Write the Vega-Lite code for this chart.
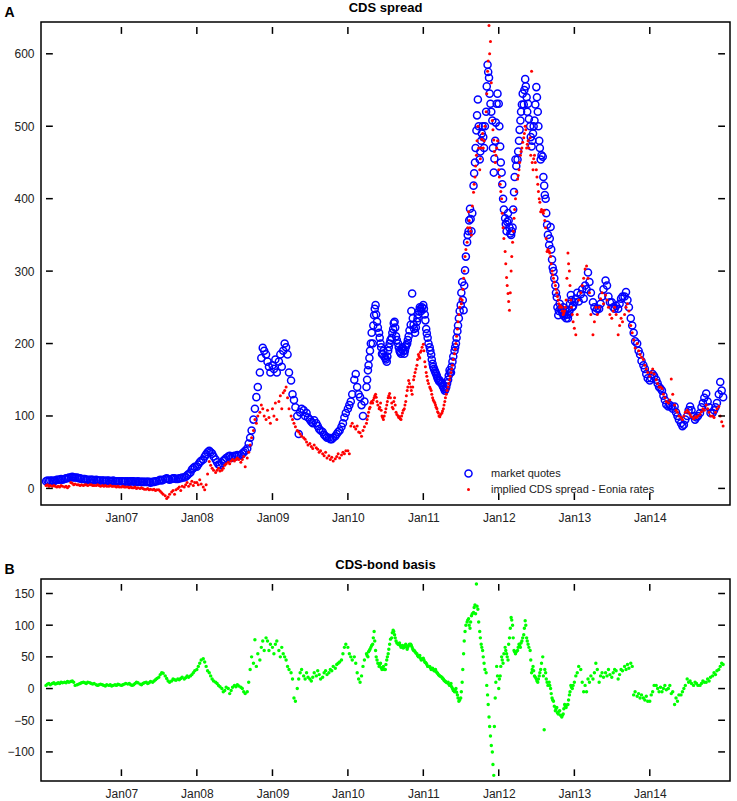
{
  "$schema": "https://vega.github.io/schema/vega-lite/v6.json",
  "background": "white",
  "padding": {"left": 3, "top": 1, "right": 4, "bottom": 0},
  "spacing": 34,
  "config": {
    "font": "Liberation Sans",
    "view": {"stroke": "#000", "strokeWidth": 1.5},
    "axis": {
      "labelFont": "Liberation Sans",
      "labelFontSize": 12,
      "labelColor": "#222",
      "domain": false,
      "grid": false,
      "ticks": false,
      "labelPadding": 7
    },
    "title": {"font": "Liberation Sans", "fontSize": 13, "fontWeight": "bold", "color": "#000", "offset": 5, "anchor": "middle", "dy": 15}
  },
  "datasets": {
    "xticks": [{"t":"2007-01-01"},{"t":"2008-01-01"},{"t":"2009-01-01"},{"t":"2010-01-01"},{"t":"2011-01-01"},{"t":"2012-01-01"},{"t":"2013-01-01"},{"t":"2014-01-01"}],
    "yticksA": [{"v":0},{"v":100},{"v":200},{"v":300},{"v":400},{"v":500},{"v":600}],
    "yticksB": [{"b":-100},{"b":-50},{"b":0},{"b":50},{"b":100},{"b":150}],
    "cds": [
{"d":"2006-01-01","m":10,"i":4,"b":5},{"d":"2006-01-08","m":11,"i":5,"b":7},{"d":"2006-01-15","m":10,"i":3,"b":8},{"d":"2006-01-22","m":11,"i":4,"b":6},
{"d":"2006-02-01","m":11,"i":3,"b":8},{"d":"2006-02-08","m":10,"i":4,"b":9},{"d":"2006-02-15","m":11,"i":3,"b":7},{"d":"2006-02-22","m":12,"i":2,"b":8},
{"d":"2006-03-01","m":12,"i":3,"b":9},{"d":"2006-03-08","m":12,"i":2,"b":8},{"d":"2006-03-15","m":13,"i":4,"b":10},{"d":"2006-03-22","m":12,"i":3,"b":9},
{"d":"2006-04-01","m":13,"i":2,"b":10},{"d":"2006-04-08","m":14,"i":3,"b":9},{"d":"2006-04-15","m":14,"i":1,"b":11},{"d":"2006-04-22","m":15,"i":3,"b":10},
{"d":"2006-05-01","m":15,"i":8,"b":11},{"d":"2006-05-08","m":16,"i":7,"b":12},{"d":"2006-05-15","m":15,"i":5,"b":10},{"d":"2006-05-22","m":15,"i":6,"b":5},
{"d":"2006-06-01","m":15,"i":5,"b":6},{"d":"2006-06-08","m":14,"i":5,"b":7},{"d":"2006-06-15","m":14,"i":4,"b":8},{"d":"2006-06-22","m":13,"i":5,"b":9},
{"d":"2006-07-01","m":13,"i":4,"b":10},{"d":"2006-07-08","m":13,"i":5,"b":9},{"d":"2006-07-15","m":12,"i":5,"b":8},{"d":"2006-07-22","m":12,"i":4,"b":10},
{"d":"2006-08-01","m":12,"i":5,"b":9},{"d":"2006-08-08","m":12,"i":5,"b":8},{"d":"2006-08-15","m":12,"i":4,"b":7},{"d":"2006-08-22","m":11,"i":4,"b":8},
{"d":"2006-09-01","m":12,"i":4,"b":6},{"d":"2006-09-08","m":11,"i":5,"b":5},{"d":"2006-09-15","m":11,"i":4,"b":6},{"d":"2006-09-22","m":11,"i":3,"b":7},
{"d":"2006-10-01","m":11,"i":4,"b":6},{"d":"2006-10-08","m":11,"i":3,"b":5},{"d":"2006-10-15","m":10,"i":4,"b":4},{"d":"2006-10-22","m":11,"i":3,"b":6},
{"d":"2006-11-01","m":11,"i":3,"b":5},{"d":"2006-11-08","m":10,"i":4,"b":6},{"d":"2006-11-15","m":10,"i":3,"b":4},{"d":"2006-11-22","m":11,"i":3,"b":5},
{"d":"2006-12-01","m":10,"i":3,"b":6},{"d":"2006-12-08","m":10,"i":2,"b":5},{"d":"2006-12-15","m":10,"i":3,"b":7},{"d":"2006-12-22","m":10,"i":2,"b":6},
{"d":"2007-01-01","m":10,"i":2,"b":5},{"d":"2007-01-08","m":10,"i":3,"b":6},{"d":"2007-01-15","m":9,"i":2,"b":7},{"d":"2007-01-22","m":10,"i":2,"b":8},
{"d":"2007-02-01","m":10,"i":2,"b":7},{"d":"2007-02-08","m":9,"i":1,"b":8},{"d":"2007-02-15","m":10,"i":2,"b":6},{"d":"2007-02-22","m":10,"i":1,"b":5},
{"d":"2007-03-01","m":10,"i":1,"b":6},{"d":"2007-03-08","m":9,"i":2,"b":8},{"d":"2007-03-15","m":9,"i":0,"b":10},{"d":"2007-03-22","m":10,"i":1,"b":9},
{"d":"2007-04-01","m":9,"i":0,"b":7},{"d":"2007-04-08","m":9,"i":1,"b":6},{"d":"2007-04-15","m":9,"i":0,"b":8},{"d":"2007-04-22","m":9,"i":-1,"b":9},
{"d":"2007-05-01","m":9,"i":-1,"b":10},{"d":"2007-05-08","m":9,"i":0,"b":8},{"d":"2007-05-15","m":9,"i":-2,"b":9},{"d":"2007-05-22","m":8,"i":-1,"b":11},
{"d":"2007-06-01","m":9,"i":-2,"b":10},{"d":"2007-06-08","m":9,"i":-1,"b":12},{"d":"2007-06-15","m":10,"i":-3,"b":14},{"d":"2007-06-22","m":10,"i":-2,"b":16},
{"d":"2007-07-01","m":11,"i":-2,"b":18},{"d":"2007-07-08","m":12,"i":-4,"b":22},{"d":"2007-07-15","m":11,"i":-6,"b":25},{"d":"2007-07-22","m":12,"i":-8,"b":24},
{"d":"2007-08-01","m":13,"i":-10,"b":20},{"d":"2007-08-08","m":14,"i":-14,"b":16},{"d":"2007-08-15","m":13,"i":-12,"b":12},{"d":"2007-08-22","m":12,"i":-8,"b":10},
{"d":"2007-09-01","m":13,"i":-5,"b":12},{"d":"2007-09-08","m":14,"i":-3,"b":15},{"d":"2007-09-15","m":14,"i":-8,"b":14},{"d":"2007-09-22","m":13,"i":-2,"b":13},
{"d":"2007-10-01","m":13,"i":0,"b":15},{"d":"2007-10-08","m":14,"i":2,"b":14},{"d":"2007-10-15","m":14,"i":-3,"b":16},{"d":"2007-10-22","m":15,"i":3,"b":18},
{"d":"2007-11-01","m":15,"i":2,"b":15},{"d":"2007-11-08","m":16,"i":5,"b":17},{"d":"2007-11-15","m":18,"i":8,"b":20},{"d":"2007-11-22","m":20,"i":3,"b":18},
{"d":"2007-12-01","m":22,"i":6,"b":20},{"d":"2007-12-08","m":26,"i":10,"b":22},{"d":"2007-12-15","m":28,"i":4,"b":25},{"d":"2007-12-22","m":30,"i":8,"b":28},
{"d":"2008-01-01","m":30,"i":8,"b":30},{"d":"2008-01-08","m":33,"i":5,"b":35},{"d":"2008-01-15","m":36,"i":12,"b":40},{"d":"2008-01-22","m":38,"i":6,"b":45},
{"d":"2008-02-01","m":40,"i":2,"b":47},{"d":"2008-02-08","m":44,"i":-2,"b":42},{"d":"2008-02-15","m":47,"i":5,"b":35},{"d":"2008-02-22","m":50,"i":20,"b":28},
{"d":"2008-03-01","m":52,"i":37,"b":25},{"d":"2008-03-08","m":50,"i":32,"b":20},{"d":"2008-03-15","m":48,"i":28,"b":15},{"d":"2008-03-22","m":44,"i":25,"b":12},
{"d":"2008-04-01","m":40,"i":22,"b":10},{"d":"2008-04-08","m":36,"i":25,"b":8},{"d":"2008-04-15","m":33,"i":28,"b":5},{"d":"2008-04-22","m":32,"i":24,"b":3},
{"d":"2008-05-01","m":35,"i":25,"b":0},{"d":"2008-05-08","m":38,"i":28,"b":-5},{"d":"2008-05-15","m":40,"i":32,"b":-3},{"d":"2008-05-22","m":42,"i":34,"b":2},
{"d":"2008-06-01","m":44,"i":36,"b":0},{"d":"2008-06-08","m":45,"i":34,"b":-8},{"d":"2008-06-15","m":42,"i":38,"b":-3},{"d":"2008-06-22","m":44,"i":40,"b":2},
{"d":"2008-07-01","m":45,"i":38,"b":5},{"d":"2008-07-08","m":44,"i":40,"b":3},{"d":"2008-07-15","m":46,"i":42,"b":6},{"d":"2008-07-22","m":45,"i":40,"b":4},
{"d":"2008-08-01","m":46,"i":36,"b":2},{"d":"2008-08-08","m":48,"i":40,"b":0},{"d":"2008-08-15","m":50,"i":44,"b":-5},{"d":"2008-08-22","m":52,"i":30,"b":-8},
{"d":"2008-09-01","m":55,"i":42,"b":-5},{"d":"2008-09-08","m":62,"i":50,"b":10},{"d":"2008-09-15","m":70,"i":60,"b":30},{"d":"2008-09-22","m":80,"i":70,"b":50},
{"d":"2008-10-01","m":95,"i":80,"b":40},{"d":"2008-10-08","m":110,"i":95,"b":77},{"d":"2008-10-15","m":126,"i":90,"b":35},{"d":"2008-10-22","m":140,"i":100,"b":55},
{"d":"2008-11-01","m":160,"i":105,"b":45},{"d":"2008-11-08","m":180,"i":115,"b":65},{"d":"2008-11-15","m":194,"i":110,"b":75},{"d":"2008-11-22","m":190,"i":100,"b":60},
{"d":"2008-12-01","m":185,"i":95,"b":80},{"d":"2008-12-08","m":175,"i":108,"b":75},{"d":"2008-12-15","m":168,"i":98,"b":60},{"d":"2008-12-22","m":160,"i":90,"b":70},
{"d":"2009-01-01","m":170,"i":110,"b":65},{"d":"2009-01-08","m":165,"i":100,"b":55},{"d":"2009-01-15","m":178,"i":118,"b":70},{"d":"2009-01-22","m":160,"i":95,"b":75},
{"d":"2009-02-01","m":175,"i":120,"b":60},{"d":"2009-02-08","m":185,"i":128,"b":50},{"d":"2009-02-15","m":168,"i":110,"b":65},{"d":"2009-02-22","m":190,"i":132,"b":55},
{"d":"2009-03-01","m":200,"i":135,"b":50},{"d":"2009-03-08","m":195,"i":140,"b":45},{"d":"2009-03-15","m":185,"i":125,"b":35},{"d":"2009-03-22","m":160,"i":110,"b":30},
{"d":"2009-04-01","m":149,"i":100,"b":25},{"d":"2009-04-08","m":130,"i":95,"b":15},{"d":"2009-04-15","m":122,"i":90,"b":-15},{"d":"2009-04-22","m":112,"i":85,"b":-20},
{"d":"2009-05-01","m":100,"i":80,"b":0},{"d":"2009-05-08","m":75,"i":78,"b":15},{"d":"2009-05-15","m":105,"i":75,"b":25},{"d":"2009-05-22","m":110,"i":72,"b":30},
{"d":"2009-06-01","m":108,"i":70,"b":20},{"d":"2009-06-08","m":100,"i":68,"b":15},{"d":"2009-06-15","m":104,"i":64,"b":25},{"d":"2009-06-22","m":98,"i":60,"b":18},
{"d":"2009-07-01","m":95,"i":62,"b":15},{"d":"2009-07-08","m":92,"i":58,"b":12},{"d":"2009-07-15","m":90,"i":55,"b":18},{"d":"2009-07-22","m":94,"i":60,"b":25},
{"d":"2009-08-01","m":90,"i":56,"b":20},{"d":"2009-08-08","m":86,"i":54,"b":28},{"d":"2009-08-15","m":82,"i":50,"b":22},{"d":"2009-08-22","m":80,"i":52,"b":15},
{"d":"2009-09-01","m":78,"i":48,"b":18},{"d":"2009-09-08","m":74,"i":45,"b":25},{"d":"2009-09-15","m":72,"i":50,"b":28},{"d":"2009-09-22","m":70,"i":42,"b":22},
{"d":"2009-10-01","m":70,"i":45,"b":25},{"d":"2009-10-08","m":68,"i":40,"b":30},{"d":"2009-10-15","m":68,"i":43,"b":28},{"d":"2009-10-22","m":70,"i":38,"b":35},
{"d":"2009-11-01","m":72,"i":41,"b":32},{"d":"2009-11-08","m":75,"i":44,"b":38},{"d":"2009-11-15","m":78,"i":48,"b":40},{"d":"2009-11-22","m":80,"i":42,"b":42},
{"d":"2009-12-01","m":85,"i":46,"b":45},{"d":"2009-12-08","m":90,"i":50,"b":55},{"d":"2009-12-15","m":98,"i":48,"b":65},{"d":"2009-12-22","m":104,"i":52,"b":70},
{"d":"2010-01-01","m":110,"i":52,"b":65},{"d":"2010-01-08","m":115,"i":48,"b":55},{"d":"2010-01-15","m":120,"i":86,"b":50},{"d":"2010-01-22","m":130,"i":90,"b":45},
{"d":"2010-02-01","m":150,"i":85,"b":50},{"d":"2010-02-08","m":158,"i":82,"b":40},{"d":"2010-02-15","m":140,"i":86,"b":25},{"d":"2010-02-22","m":130,"i":78,"b":15},
{"d":"2010-03-01","m":126,"i":77,"b":10},{"d":"2010-03-08","m":115,"i":72,"b":20},{"d":"2010-03-15","m":100,"i":80,"b":35},{"d":"2010-03-22","m":120,"i":85,"b":45},
{"d":"2010-04-01","m":140,"i":90,"b":55},{"d":"2010-04-08","m":163,"i":100,"b":50},{"d":"2010-04-15","m":180,"i":110,"b":60},{"d":"2010-04-22","m":200,"i":118,"b":65},
{"d":"2010-05-01","m":200,"i":118,"b":70},{"d":"2010-05-08","m":239,"i":125,"b":90},{"d":"2010-05-15","m":253,"i":130,"b":60},{"d":"2010-05-22","m":230,"i":120,"b":45},
{"d":"2010-06-01","m":215,"i":110,"b":35},{"d":"2010-06-08","m":200,"i":118,"b":40},{"d":"2010-06-15","m":186,"i":100,"b":30},{"d":"2010-06-22","m":190,"i":95,"b":35},
{"d":"2010-07-01","m":180,"i":105,"b":30},{"d":"2010-07-08","m":175,"i":115,"b":45},{"d":"2010-07-15","m":190,"i":125,"b":55},{"d":"2010-07-22","m":200,"i":131,"b":70},
{"d":"2010-08-01","m":208,"i":118,"b":80},{"d":"2010-08-08","m":220,"i":110,"b":92},{"d":"2010-08-15","m":230,"i":125,"b":85},{"d":"2010-08-22","m":210,"i":105,"b":75},
{"d":"2010-09-01","m":200,"i":100,"b":70},{"d":"2010-09-08","m":190,"i":99,"b":72},{"d":"2010-09-15","m":186,"i":95,"b":65},{"d":"2010-09-22","m":195,"i":104,"b":68},
{"d":"2010-10-01","m":186,"i":110,"b":65},{"d":"2010-10-08","m":195,"i":120,"b":70},{"d":"2010-10-15","m":200,"i":135,"b":62},{"d":"2010-10-22","m":210,"i":149,"b":68},
{"d":"2010-11-01","m":226,"i":140,"b":70},{"d":"2010-11-08","m":269,"i":130,"b":65},{"d":"2010-11-15","m":226,"i":150,"b":60},{"d":"2010-11-22","m":215,"i":160,"b":58},
{"d":"2010-12-01","m":230,"i":170,"b":55},{"d":"2010-12-08","m":240,"i":185,"b":50},{"d":"2010-12-15","m":250,"i":180,"b":52},{"d":"2010-12-22","m":245,"i":190,"b":45},
{"d":"2011-01-01","m":253,"i":199,"b":48},{"d":"2011-01-08","m":240,"i":175,"b":42},{"d":"2011-01-15","m":220,"i":160,"b":40},{"d":"2011-01-22","m":208,"i":149,"b":35},
{"d":"2011-02-01","m":195,"i":140,"b":35},{"d":"2011-02-08","m":185,"i":135,"b":30},{"d":"2011-02-15","m":172,"i":125,"b":32},{"d":"2011-02-22","m":165,"i":120,"b":28},
{"d":"2011-03-01","m":160,"i":115,"b":30},{"d":"2011-03-08","m":155,"i":110,"b":25},{"d":"2011-03-15","m":150,"i":104,"b":22},{"d":"2011-03-22","m":149,"i":99,"b":20},
{"d":"2011-04-01","m":145,"i":104,"b":18},{"d":"2011-04-08","m":140,"i":110,"b":15},{"d":"2011-04-15","m":135,"i":120,"b":12},{"d":"2011-04-22","m":140,"i":130,"b":10},
{"d":"2011-05-01","m":150,"i":140,"b":10},{"d":"2011-05-08","m":163,"i":150,"b":5},{"d":"2011-05-15","m":160,"i":160,"b":8},{"d":"2011-05-22","m":175,"i":170,"b":0},
{"d":"2011-06-01","m":190,"i":186,"b":-5},{"d":"2011-06-08","m":200,"i":200,"b":0},{"d":"2011-06-15","m":217,"i":220,"b":-10},{"d":"2011-06-22","m":235,"i":240,"b":-20},
{"d":"2011-07-01","m":253,"i":262,"b":-15},{"d":"2011-07-08","m":285,"i":260,"b":10},{"d":"2011-07-15","m":246,"i":290,"b":55},{"d":"2011-07-22","m":301,"i":320,"b":90},
{"d":"2011-08-01","m":340,"i":340,"b":105},{"d":"2011-08-08","m":355,"i":382,"b":110},{"d":"2011-08-15","m":386,"i":360,"b":95},{"d":"2011-08-22","m":355,"i":350,"b":115},
{"d":"2011-09-01","m":418,"i":409,"b":120},{"d":"2011-09-08","m":450,"i":430,"b":132},{"d":"2011-09-15","m":494,"i":460,"b":165},{"d":"2011-09-22","m":537,"i":500,"b":125},
{"d":"2011-10-01","m":454,"i":440,"b":90},{"d":"2011-10-08","m":480,"i":470,"b":70},{"d":"2011-10-15","m":500,"i":490,"b":60},{"d":"2011-10-22","m":470,"i":480,"b":40},
{"d":"2011-11-01","m":520,"i":520,"b":25},{"d":"2011-11-08","m":585,"i":576,"b":-10},{"d":"2011-11-15","m":567,"i":639,"b":-45},{"d":"2011-11-22","m":531,"i":617,"b":-75},
{"d":"2011-12-01","m":508,"i":508,"b":-100},{"d":"2011-12-08","m":436,"i":481,"b":-137},{"d":"2011-12-15","m":480,"i":450,"b":-15},{"d":"2011-12-22","m":531,"i":470,"b":35},
{"d":"2012-01-01","m":531,"i":440,"b":0},{"d":"2012-01-08","m":472,"i":420,"b":20},{"d":"2012-01-15","m":436,"i":400,"b":50},{"d":"2012-01-22","m":400,"i":360,"b":40},
{"d":"2012-02-01","m":373,"i":327,"b":65},{"d":"2012-02-08","m":355,"i":291,"b":55},{"d":"2012-02-15","m":380,"i":269,"b":45},{"d":"2012-02-22","m":360,"i":246,"b":80},
{"d":"2012-03-01","m":350,"i":300,"b":112},{"d":"2012-03-08","m":360,"i":340,"b":100},{"d":"2012-03-15","m":409,"i":373,"b":60},{"d":"2012-03-22","m":454,"i":400,"b":55},
{"d":"2012-04-01","m":454,"i":427,"b":60},{"d":"2012-04-08","m":480,"i":440,"b":70},{"d":"2012-04-15","m":508,"i":460,"b":65},{"d":"2012-04-22","m":530,"i":470,"b":75},
{"d":"2012-05-01","m":530,"i":484,"b":85},{"d":"2012-05-08","m":565,"i":500,"b":107},{"d":"2012-05-15","m":540,"i":470,"b":80},{"d":"2012-05-22","m":531,"i":480,"b":70},
{"d":"2012-06-01","m":500,"i":484,"b":60},{"d":"2012-06-08","m":472,"i":576,"b":25},{"d":"2012-06-15","m":490,"i":440,"b":35},{"d":"2012-06-22","m":508,"i":460,"b":20},
{"d":"2012-07-01","m":554,"i":440,"b":15},{"d":"2012-07-08","m":520,"i":420,"b":10},{"d":"2012-07-15","m":480,"i":400,"b":20},{"d":"2012-07-22","m":454,"i":382,"b":30},
{"d":"2012-08-01","m":458,"i":382,"b":50},{"d":"2012-08-08","m":418,"i":384,"b":-65},{"d":"2012-08-15","m":400,"i":360,"b":25},{"d":"2012-08-22","m":364,"i":327,"b":10},
{"d":"2012-09-01","m":336,"i":327,"b":10},{"d":"2012-09-08","m":361,"i":320,"b":0},{"d":"2012-09-15","m":316,"i":300,"b":-15},{"d":"2012-09-22","m":300,"i":290,"b":-20},
{"d":"2012-10-01","m":280,"i":280,"b":-35},{"d":"2012-10-08","m":264,"i":270,"b":-30},{"d":"2012-10-15","m":239,"i":260,"b":-40},{"d":"2012-10-22","m":255,"i":250,"b":-35},
{"d":"2012-11-01","m":246,"i":250,"b":-45},{"d":"2012-11-08","m":250,"i":240,"b":-40},{"d":"2012-11-15","m":240,"i":245,"b":-25},{"d":"2012-11-22","m":235,"i":260,"b":-30},
{"d":"2012-12-01","m":235,"i":325,"b":-25},{"d":"2012-12-08","m":245,"i":300,"b":-10},{"d":"2012-12-15","m":267,"i":260,"b":5},{"d":"2012-12-22","m":250,"i":240,"b":0},
{"d":"2013-01-01","m":257,"i":221,"b":10},{"d":"2013-01-08","m":262,"i":212,"b":20},{"d":"2013-01-15","m":270,"i":240,"b":25},{"d":"2013-01-22","m":258,"i":260,"b":35},
{"d":"2013-02-01","m":268,"i":270,"b":30},{"d":"2013-02-08","m":275,"i":280,"b":10},{"d":"2013-02-15","m":262,"i":290,"b":-5},{"d":"2013-02-22","m":280,"i":303,"b":5},
{"d":"2013-03-01","m":275,"i":307,"b":-5},{"d":"2013-03-08","m":298,"i":290,"b":15},{"d":"2013-03-15","m":285,"i":270,"b":10},{"d":"2013-03-22","m":270,"i":240,"b":20},
{"d":"2013-04-01","m":257,"i":212,"b":15},{"d":"2013-04-08","m":250,"i":230,"b":25},{"d":"2013-04-15","m":245,"i":250,"b":40},{"d":"2013-04-22","m":248,"i":240,"b":30},
{"d":"2013-05-01","m":248,"i":250,"b":10},{"d":"2013-05-08","m":255,"i":262,"b":20},{"d":"2013-05-15","m":265,"i":270,"b":25},{"d":"2013-05-22","m":275,"i":255,"b":18},
{"d":"2013-06-01","m":287,"i":267,"b":25},{"d":"2013-06-08","m":280,"i":260,"b":20},{"d":"2013-06-15","m":265,"i":250,"b":30},{"d":"2013-06-22","m":257,"i":240,"b":22},
{"d":"2013-07-01","m":257,"i":235,"b":18},{"d":"2013-07-08","m":250,"i":245,"b":25},{"d":"2013-07-15","m":248,"i":250,"b":30},{"d":"2013-07-22","m":252,"i":240,"b":28},
{"d":"2013-08-01","m":248,"i":212,"b":15},{"d":"2013-08-08","m":255,"i":225,"b":22},{"d":"2013-08-15","m":262,"i":235,"b":30},{"d":"2013-08-22","m":265,"i":230,"b":28},
{"d":"2013-09-01","m":265,"i":240,"b":35},{"d":"2013-09-08","m":271,"i":250,"b":30},{"d":"2013-09-15","m":260,"i":255,"b":38},{"d":"2013-09-22","m":250,"i":245,"b":32},
{"d":"2013-10-01","m":235,"i":225,"b":40},{"d":"2013-10-08","m":225,"i":215,"b":35},{"d":"2013-10-15","m":215,"i":205,"b":-10},{"d":"2013-10-22","m":203,"i":194,"b":-5},
{"d":"2013-11-01","m":200,"i":200,"b":-12},{"d":"2013-11-08","m":190,"i":190,"b":-8},{"d":"2013-11-15","m":185,"i":185,"b":-15},{"d":"2013-11-22","m":176,"i":181,"b":-10},
{"d":"2013-12-01","m":170,"i":178,"b":-15},{"d":"2013-12-08","m":165,"i":170,"b":-18},{"d":"2013-12-15","m":158,"i":165,"b":-12},{"d":"2013-12-22","m":152,"i":160,"b":-20},
{"d":"2014-01-01","m":149,"i":155,"b":-20},{"d":"2014-01-08","m":152,"i":160,"b":-10},{"d":"2014-01-15","m":158,"i":165,"b":-5},{"d":"2014-01-22","m":155,"i":158,"b":5},
{"d":"2014-02-01","m":150,"i":150,"b":5},{"d":"2014-02-08","m":145,"i":145,"b":0},{"d":"2014-02-15","m":140,"i":140,"b":-5},{"d":"2014-02-22","m":138,"i":140,"b":2},
{"d":"2014-03-01","m":135,"i":138,"b":-5},{"d":"2014-03-08","m":128,"i":130,"b":0},{"d":"2014-03-15","m":122,"i":125,"b":5},{"d":"2014-03-22","m":116,"i":120,"b":-2},
{"d":"2014-04-01","m":113,"i":118,"b":0},{"d":"2014-04-08","m":115,"i":122,"b":5},{"d":"2014-04-15","m":113,"i":151,"b":-8},{"d":"2014-04-22","m":110,"i":130,"b":-5},
{"d":"2014-05-01","m":113,"i":115,"b":-25},{"d":"2014-05-08","m":105,"i":108,"b":-15},{"d":"2014-05-15","m":100,"i":105,"b":-20},{"d":"2014-05-22","m":95,"i":100,"b":-10},
{"d":"2014-06-01","m":90,"i":98,"b":-10},{"d":"2014-06-08","m":86,"i":95,"b":-5},{"d":"2014-06-15","m":88,"i":100,"b":0},{"d":"2014-06-22","m":95,"i":105,"b":5},
{"d":"2014-07-01","m":100,"i":108,"b":15},{"d":"2014-07-08","m":108,"i":105,"b":10},{"d":"2014-07-15","m":113,"i":102,"b":12},{"d":"2014-07-22","m":108,"i":99,"b":8},
{"d":"2014-08-01","m":100,"i":96,"b":5},{"d":"2014-08-08","m":95,"i":99,"b":10},{"d":"2014-08-15","m":98,"i":98,"b":8},{"d":"2014-08-22","m":100,"i":100,"b":5},
{"d":"2014-09-01","m":104,"i":102,"b":5},{"d":"2014-09-08","m":112,"i":106,"b":8},{"d":"2014-09-15","m":118,"i":110,"b":12},{"d":"2014-09-22","m":125,"i":108,"b":10},
{"d":"2014-10-01","m":131,"i":115,"b":10},{"d":"2014-10-08","m":120,"i":110,"b":15},{"d":"2014-10-15","m":112,"i":105,"b":12},{"d":"2014-10-22","m":104,"i":100,"b":18},
{"d":"2014-11-01","m":104,"i":100,"b":20},{"d":"2014-11-08","m":108,"i":98,"b":25},{"d":"2014-11-15","m":112,"i":105,"b":22},{"d":"2014-11-22","m":118,"i":110,"b":28},
{"d":"2014-12-01","m":130,"i":113,"b":30},{"d":"2014-12-08","m":147,"i":100,"b":35},{"d":"2014-12-15","m":135,"i":92,"b":40},{"d":"2014-12-22","m":126,"i":86,"b":38},
{"d":"2010-04-04","m":150,"i":95,"b":52},{"d":"2010-04-11","m":170,"i":105,"b":58},{"d":"2010-04-18","m":190,"i":112,"b":62},{"d":"2010-04-26","m":215,"i":120,"b":68},
{"d":"2010-05-04","m":225,"i":122,"b":80},{"d":"2010-05-11","m":248,"i":128,"b":75},{"d":"2010-05-18","m":240,"i":126,"b":50},{"d":"2010-05-26","m":222,"i":115,"b":40},
{"d":"2010-06-04","m":208,"i":112,"b":38},{"d":"2010-06-11","m":195,"i":108,"b":33},{"d":"2010-06-18","m":185,"i":98,"b":32},{"d":"2010-06-26","m":182,"i":100,"b":30},
{"d":"2010-07-04","m":178,"i":110,"b":38},{"d":"2010-07-11","m":182,"i":120,"b":50},{"d":"2010-07-18","m":195,"i":128,"b":62},{"d":"2010-07-26","m":205,"i":125,"b":78},
{"d":"2010-08-04","m":215,"i":112,"b":88},{"d":"2010-08-11","m":228,"i":120,"b":90},{"d":"2010-08-18","m":222,"i":115,"b":80},{"d":"2010-08-26","m":205,"i":102,"b":72},
{"d":"2010-09-04","m":195,"i":98,"b":70},{"d":"2010-09-11","m":188,"i":96,"b":68},{"d":"2010-09-18","m":192,"i":100,"b":66},{"d":"2010-09-26","m":190,"i":108,"b":64},
{"d":"2010-10-04","m":190,"i":115,"b":68},{"d":"2010-10-11","m":198,"i":128,"b":66},{"d":"2010-10-18","m":205,"i":140,"b":65},{"d":"2010-10-26","m":218,"i":145,"b":70},
{"d":"2010-11-04","m":245,"i":135,"b":68},{"d":"2010-11-11","m":235,"i":140,"b":62},{"d":"2010-11-18","m":220,"i":155,"b":60},{"d":"2010-11-26","m":222,"i":165,"b":56},
{"d":"2010-12-04","m":235,"i":178,"b":52},{"d":"2010-12-11","m":245,"i":182,"b":51},{"d":"2010-12-18","m":248,"i":188,"b":48},{"d":"2010-12-26","m":250,"i":195,"b":46},
{"d":"2011-01-04","m":248,"i":190,"b":45},{"d":"2011-01-11","m":232,"i":168,"b":41},{"d":"2011-01-18","m":214,"i":155,"b":38},{"d":"2011-01-26","m":200,"i":145,"b":35},
{"d":"2011-02-04","m":190,"i":138,"b":33},{"d":"2011-02-11","m":178,"i":130,"b":31},{"d":"2011-02-18","m":168,"i":122,"b":30},{"d":"2011-02-26","m":162,"i":118,"b":28},
{"d":"2011-03-04","m":158,"i":112,"b":27},{"d":"2011-03-11","m":152,"i":106,"b":24},{"d":"2011-03-18","m":148,"i":100,"b":21},{"d":"2011-03-26","m":146,"i":102,"b":19},
{"d":"2011-04-04","m":142,"i":107,"b":16},{"d":"2011-04-11","m":138,"i":115,"b":13},{"d":"2011-04-18","m":137,"i":125,"b":11},{"d":"2011-04-26","m":145,"i":135,"b":9},
{"d":"2011-05-04","m":156,"i":145,"b":7},{"d":"2011-05-11","m":160,"i":155,"b":6},{"d":"2011-05-18","m":168,"i":165,"b":3},{"d":"2011-05-26","m":182,"i":178,"b":-3},
{"d":"2011-06-04","m":195,"i":192,"b":-2},{"d":"2011-06-11","m":208,"i":210,"b":-6},{"d":"2011-06-18","m":225,"i":230,"b":-15},{"d":"2011-06-26","m":245,"i":250,"b":-18},
{"d":"2011-07-04","m":270,"i":255,"b":-5},{"d":"2011-07-11","m":260,"i":275,"b":30},{"d":"2011-07-18","m":280,"i":300,"b":75},{"d":"2011-07-26","m":320,"i":330,"b":100},
{"d":"2011-08-04","m":350,"i":360,"b":108},{"d":"2011-08-11","m":370,"i":370,"b":100},{"d":"2011-08-18","m":372,"i":355,"b":105},{"d":"2011-08-26","m":380,"i":390,"b":118},
{"d":"2011-09-04","m":435,"i":420,"b":128},{"d":"2011-09-11","m":470,"i":445,"b":118},{"d":"2011-09-18","m":515,"i":480,"b":130},{"d":"2011-09-26","m":500,"i":470,"b":105},
{"d":"2011-10-04","m":465,"i":455,"b":80},{"d":"2011-10-11","m":490,"i":482,"b":65},{"d":"2011-10-18","m":485,"i":470,"b":50},{"d":"2011-10-26","m":500,"i":500,"b":30},
{"d":"2011-11-04","m":555,"i":545,"b":5},{"d":"2011-11-11","m":575,"i":590,"b":-25},{"d":"2011-11-18","m":545,"i":600,"b":-60},{"d":"2011-11-26","m":520,"i":560,"b":-90},
{"d":"2011-12-04","m":470,"i":495,"b":-120},{"d":"2011-12-11","m":455,"i":465,"b":-60},{"d":"2011-12-18","m":505,"i":460,"b":10},{"d":"2011-12-26","m":545,"i":480,"b":20},
{"d":"2012-01-04","m":500,"i":430,"b":15},{"d":"2012-01-11","m":450,"i":410,"b":35},{"d":"2012-01-18","m":420,"i":380,"b":45},{"d":"2012-01-26","m":385,"i":345,"b":55},
{"d":"2012-02-04","m":365,"i":310,"b":60},{"d":"2012-02-11","m":368,"i":280,"b":50},{"d":"2012-02-18","m":370,"i":258,"b":70},{"d":"2012-02-26","m":352,"i":270,"b":95},
{"d":"2012-03-04","m":355,"i":320,"b":108},{"d":"2012-03-11","m":385,"i":355,"b":80},{"d":"2012-03-18","m":430,"i":385,"b":58},{"d":"2012-03-26","m":445,"i":410,"b":58},
{"d":"2012-04-04","m":465,"i":432,"b":65},{"d":"2012-04-11","m":495,"i":450,"b":68},{"d":"2012-04-18","m":520,"i":465,"b":72},{"d":"2012-04-26","m":545,"i":478,"b":80},
{"d":"2012-05-04","m":550,"i":490,"b":95},{"d":"2012-05-11","m":555,"i":495,"b":100},{"d":"2012-05-18","m":520,"i":475,"b":75},{"d":"2012-05-26","m":510,"i":470,"b":65},
{"d":"2012-06-04","m":485,"i":460,"b":45},{"d":"2012-06-11","m":480,"i":450,"b":30},{"d":"2012-06-18","m":500,"i":455,"b":28},{"d":"2012-06-26","m":530,"i":450,"b":18},
{"d":"2012-07-04","m":540,"i":430,"b":12},{"d":"2012-07-11","m":500,"i":410,"b":15},{"d":"2012-07-18","m":470,"i":395,"b":25},{"d":"2012-07-26","m":460,"i":385,"b":40},
{"d":"2012-08-04","m":430,"i":380,"b":20},{"d":"2012-08-11","m":405,"i":370,"b":30},{"d":"2012-08-18","m":380,"i":345,"b":15},{"d":"2012-08-26","m":350,"i":330,"b":5},
{"d":"2012-09-04","m":345,"i":325,"b":5},{"d":"2012-09-11","m":330,"i":310,"b":-8},{"d":"2012-09-18","m":305,"i":295,"b":-18},{"d":"2012-09-26","m":290,"i":285,"b":-28},
{"d":"2012-10-04","m":270,"i":275,"b":-32},{"d":"2012-10-11","m":250,"i":265,"b":-38},{"d":"2012-10-18","m":245,"i":255,"b":-36},{"d":"2012-10-26","m":248,"i":252,"b":-42},
{"d":"2012-11-04","m":242,"i":245,"b":-42},{"d":"2012-11-11","m":238,"i":242,"b":-32},{"d":"2012-11-18","m":245,"i":250,"b":-28},{"d":"2012-11-26","m":240,"i":290,"b":-26},
{"d":"2012-12-04","m":240,"i":310,"b":-18},{"d":"2012-12-11","m":255,"i":280,"b":-5},{"d":"2012-12-18","m":260,"i":250,"b":2},{"d":"2012-12-26","m":252,"i":230,"b":5}
    ]
  },
  "vconcat": [
    {
      "width": 689,
      "height": 483,
      "title": {"text": "CDS spread"},
      "layer": [
        {
          "data": {"name": "cds"},
          "transform": [{"fold": ["m", "i"], "as": ["s", "v"]}],
          "mark": {"type": "point", "opacity": 1},
          "encoding": {
            "x": {
              "field": "d", "type": "temporal",
              "scale": {"domain": [{"year": 2006, "month": 1, "date": 1}, {"year": 2014, "month": 12, "date": 31}]},
              "axis": {
                "title": null, "format": "%b%y",
                "values": [{"year": 2007, "month": 1, "date": 1}, {"year": 2008, "month": 1, "date": 1}, {"year": 2009, "month": 1, "date": 1}, {"year": 2010, "month": 1, "date": 1}, {"year": 2011, "month": 1, "date": 1}, {"year": 2012, "month": 1, "date": 1}, {"year": 2013, "month": 1, "date": 1}, {"year": 2014, "month": 1, "date": 1}]
              }
            },
            "y": {
              "field": "v", "type": "quantitative",
              "scale": {"domain": [-16, 637], "nice": false, "zero": false},
              "axis": {
                "values": [0, 100, 200, 300, 400, 500, 600],
                "title": "A", "titleAngle": 0, "titleX": -37, "titleY": -6, "titleAlign": "left", "titleBaseline": "alphabetic",
                "titleFontSize": 14, "titleFontWeight": "bold", "titleColor": "#000"
              }
            },
            "stroke": {
              "field": "s", "type": "nominal",
              "scale": {"domain": ["m", "i"], "range": ["#0000ff", "#ff0000"]},
              "legend": {
                "title": null, "orient": "none", "legendX": 422, "legendY": 446, "padding": 0, "labelLimit": 0,
                "labelExpr": "datum.label == 'm' ? 'market quotes' : 'implied CDS spread - Eonia rates'",
                "labelFont": "Liberation Sans", "labelFontSize": 11, "labelColor": "#222", "labelOffset": 17, "rowPadding": 2, "symbolType": "circle"
              }
            },
            "fill": {"field": "s", "type": "nominal", "scale": {"domain": ["m", "i"], "range": ["transparent", "#ff0000"]}},
            "size": {"field": "s", "type": "nominal", "scale": {"domain": ["m", "i"], "range": [50, 9]}},
            "strokeWidth": {"field": "s", "type": "nominal", "scale": {"domain": ["m", "i"], "range": [1.5, 0]}},
            "order": {"field": "s", "sort": "descending"}
          }
        },
        {
          "data": {"name": "xticks"},
          "mark": {"type": "bar", "width": 1.5, "color": "#000", "opacity": 1},
          "encoding": {
            "x": {"field": "t", "type": "temporal"},
            "y": {"datum": 637, "type": "quantitative"},
            "y2": {"datum": 627.5}
          }
        },
        {
          "data": {"name": "xticks"},
          "mark": {"type": "bar", "width": 1.5, "color": "#000", "opacity": 1},
          "encoding": {
            "x": {"field": "t", "type": "temporal"},
            "y": {"datum": -16, "type": "quantitative"},
            "y2": {"datum": -6.5}
          }
        },
        {
          "data": {"name": "yticksA"},
          "mark": {"type": "bar", "height": 1.5, "color": "#000", "opacity": 1},
          "encoding": {
            "y": {"field": "v", "type": "quantitative"},
            "x": {"datum": {"year": 2006, "month": 1, "date": 1}, "type": "temporal"},
            "x2": {"datum": {"year": 2006, "month": 2, "date": 3}}
          }
        },
        {
          "data": {"name": "yticksA"},
          "mark": {"type": "bar", "height": 1.5, "color": "#000", "opacity": 1},
          "encoding": {
            "y": {"field": "v", "type": "quantitative"},
            "x": {"datum": {"year": 2014, "month": 11, "date": 28}, "type": "temporal"},
            "x2": {"datum": {"year": 2014, "month": 12, "date": 31}}
          }
        }
      ]
    },
    {
      "width": 689,
      "height": 202,
      "title": {"text": "CDS-bond basis"},
      "layer": [
        {
          "data": {"name": "cds"},
          "mark": {"type": "point", "filled": true, "color": "#00ff00", "size": 12, "opacity": 1},
          "encoding": {
            "x": {
              "field": "d", "type": "temporal",
              "scale": {"domain": [{"year": 2006, "month": 1, "date": 1}, {"year": 2014, "month": 12, "date": 31}]},
              "axis": {
                "title": null, "format": "%b%y",
                "values": [{"year": 2007, "month": 1, "date": 1}, {"year": 2008, "month": 1, "date": 1}, {"year": 2009, "month": 1, "date": 1}, {"year": 2010, "month": 1, "date": 1}, {"year": 2011, "month": 1, "date": 1}, {"year": 2012, "month": 1, "date": 1}, {"year": 2013, "month": 1, "date": 1}, {"year": 2014, "month": 1, "date": 1}]
              }
            },
            "y": {
              "field": "b", "type": "quantitative",
              "scale": {"domain": [-138, 165], "nice": false, "zero": false},
              "axis": {
                "values": [-100, -50, 0, 50, 100, 150],
                "title": "B", "titleAngle": 0, "titleX": -37, "titleY": -6, "titleAlign": "left", "titleBaseline": "alphabetic",
                "titleFontSize": 14, "titleFontWeight": "bold", "titleColor": "#000"
              }
            }
          }
        },
        {
          "data": {"name": "xticks"},
          "mark": {"type": "bar", "width": 1.5, "color": "#000", "opacity": 1},
          "encoding": {
            "x": {"field": "t", "type": "temporal"},
            "y": {"datum": 165, "type": "quantitative"},
            "y2": {"datum": 154.5}
          }
        },
        {
          "data": {"name": "xticks"},
          "mark": {"type": "bar", "width": 1.5, "color": "#000", "opacity": 1},
          "encoding": {
            "x": {"field": "t", "type": "temporal"},
            "y": {"datum": -138, "type": "quantitative"},
            "y2": {"datum": -127.5}
          }
        },
        {
          "data": {"name": "yticksB"},
          "mark": {"type": "bar", "height": 1.5, "color": "#000", "opacity": 1},
          "encoding": {
            "y": {"field": "b", "type": "quantitative"},
            "x": {"datum": {"year": 2006, "month": 1, "date": 1}, "type": "temporal"},
            "x2": {"datum": {"year": 2006, "month": 2, "date": 3}}
          }
        },
        {
          "data": {"name": "yticksB"},
          "mark": {"type": "bar", "height": 1.5, "color": "#000", "opacity": 1},
          "encoding": {
            "y": {"field": "b", "type": "quantitative"},
            "x": {"datum": {"year": 2014, "month": 11, "date": 28}, "type": "temporal"},
            "x2": {"datum": {"year": 2014, "month": 12, "date": 31}}
          }
        }
      ]
    }
  ]
}
